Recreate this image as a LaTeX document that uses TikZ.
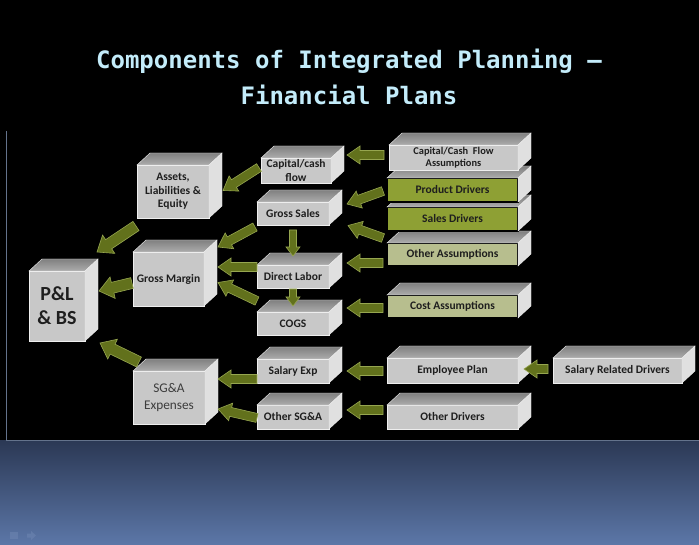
\documentclass[tikz,border=0pt]{standalone}
\usepackage{fontspec}
\setmainfont{Carlito}
\newfontfamily\titlefont{DejaVu Sans Mono}
\usetikzlibrary{calc}
\definecolor{frontgray}{RGB}{200,200,200}
\definecolor{topdark}{RGB}{128,128,128}
\definecolor{toplight}{RGB}{172,172,172}
\definecolor{sidegray}{RGB}{224,224,224}
\definecolor{edgewhite}{RGB}{238,238,238}
\definecolor{boxtext}{RGB}{30,30,30}
\definecolor{drvgreen}{RGB}{142,160,52}
\definecolor{khaki}{RGB}{183,190,142}
\definecolor{arrowfill}{RGB}{98,113,28}
\definecolor{arrowedge}{RGB}{150,166,80}
\definecolor{titlecol}{RGB}{195,236,250}
\definecolor{bgtop}{RGB}{43,56,84}
\definecolor{bgbot}{RGB}{92,119,168}
\definecolor{panelline}{RGB}{100,115,140}
\definecolor{navicon}{RGB}{108,132,176}
\def\dx{13}
\def\dy{12}
\def\sw{4.5}\def\hw{9}\def\hl{13}
\newcommand\cubebox[7][]{%
  \node[front,#1,minimum width=#5pt,minimum height=#6pt] (#2) at (#3,#4) {#7};
  \path[topface] (#2.north west) -- ++(\dx,-\dy) -- ([shift={(\dx,-\dy)}]#2.north east) -- (#2.north east) -- cycle;
  \path[sideface] (#2.north east) -- ++(\dx,-\dy) -- ([shift={(\dx,-\dy)}]#2.south east) -- (#2.south east) -- cycle;
}
\newcommand\barrow[2]{%
  \path[blockarrow] let \p1=(#1), \p2=(#2),
    \n1={atan2(\y2-\y1,\x2-\x1)}, \n2={veclen(\x2-\x1,\y2-\y1)} in
    [shift={(\p1)}, rotate=\n1]
    (0pt,\sw pt) -- ({\n2*1pt-\hl pt},\sw pt) -- ({\n2*1pt-\hl pt},\hw pt) -- ({\n2*1pt},0pt)
    -- ({\n2*1pt-\hl pt},-\hw pt) -- ({\n2*1pt-\hl pt},-\sw pt) -- (0pt,-\sw pt) -- cycle;
}
\begin{document}
\begin{tikzpicture}[x=1pt,y=-1pt,
  front/.style={fill=frontgray, draw=edgewhite, line width=0.5pt, inner sep=0pt, outer sep=0pt,
    align=center, text=boxtext, font=\bfseries\fontsize{11.5}{13.5}\selectfont},
  greenbox/.style={fill=drvgreen, draw=black, line width=1.3pt},
  khakibox/.style={fill=khaki, draw=black, line width=1.3pt},
  smalltext/.style={font=\bfseries\fontsize{10.4}{12}\selectfont},
  bigtext/.style={font=\bfseries\fontsize{20}{24}\selectfont},
  plaintext/.style={font=\fontsize{13.3}{17}\selectfont, text={rgb,255:red,60;green,60;blue,60}},
  topface/.style={top color=topdark, bottom color=toplight, draw=edgewhite, line width=0.4pt},
  sideface/.style={fill=sidegray, draw=edgewhite, line width=0.4pt},
  blockarrow/.style={fill=arrowfill, draw=arrowedge, line width=0.6pt, line join=miter},
  titletext/.style={text=titlecol, font=\titlefont\bfseries\fontsize{24}{36}\selectfont, anchor=base}
]
\useasboundingbox (0,0) rectangle (699,545);
% background
\fill[black] (0,0) rectangle (699,440);
\shade[top color=bgtop, bottom color=bgbot] (0,440) rectangle (699,545);
\draw[panelline, line width=1pt] (6.5,131) -- (6.5,440) -- (699,440);
\fill[navicon, opacity=0.6] (10,532) rectangle (18,539);
\fill[navicon, opacity=0.6] (27,533.5) -- (31,533.5) -- (31,531) -- (36,535.5) -- (31,540) -- (31,537.5) -- (27,537.5) -- cycle;
% title
\node[titletext] (title1) at (349,69) {Components of Integrated Planning –};
\node[titletext] (title2) at (349,105) {Financial Plans};
% left column
\cubebox[bigtext]{pl}{57}{306}{56}{70}{P\&L\\\& BS}
\cubebox{assets}{173}{191.5}{72}{53}{Assets,\\Liabilities \&\\Equity}
\cubebox{gm}{168.5}{279}{71}{54}{Gross Margin}
\cubebox[plaintext]{sga}{169}{397.5}{72}{53}{SG\&A\\Expenses}
% middle column
\cubebox{capcash}{296}{170.5}{70}{25}{Capital/cash\\flow}
\cubebox{gsales}{293}{213.5}{72}{23}{Gross Sales}
\cubebox{dlabor}{293}{276.5}{72}{23}{Direct Labor}
\cubebox{cogs}{293}{323.5}{72}{23}{COGS}
\cubebox{salexp}{293}{371}{72}{24}{Salary Exp}
\cubebox{othsga}{293}{417}{72}{24}{Other SG\&A}
% right stack (drawn bottom first)
\cubebox[khakibox]{othass}{452.5}{254.5}{131}{23}{Other Assumptions}
\cubebox[greenbox]{sales}{452.5}{219}{131}{24}{Sales Drivers}
\cubebox[greenbox]{prod}{452.5}{190}{131}{24}{Product Drivers}
\cubebox[smalltext]{capass}{453.5}{157.5}{129}{25}{Capital/Cash\ \ Flow\\Assumptions}
\cubebox[khakibox]{costa}{452.5}{306.5}{131}{23}{Cost Assumptions}
\cubebox{emp}{452.5}{370.5}{131}{25}{Employee Plan}
\cubebox{othdrv}{452.5}{417}{131}{24}{Other Drivers}
\cubebox{salrel}{617.5}{370.5}{129}{25}{Salary Related Drivers}
% arrows
\barrow{$(capcash.west)+(-2,-3)$}{$(assets.east)+(14,-1)$}
\barrow{$(capass.west)+(-5,-2.5)$}{$(capcash.east)+(16,-15.5)$}
\barrow{$(prod.west)+(-4,1)$}{$(gsales.east)+(18,-9.5)$}
\barrow{$(sales.south west)+(-4,7)$}{$(gsales.east)+(19,12)$}
\barrow{$(othass.west)+(-4,8.5)$}{$(dlabor.east)+(18,-13.5)$}
\barrow{$(costa.west)+(-4,1.5)$}{$(cogs.east)+(18,-15.5)$}
\barrow{$(emp.west)+(-4,0.5)$}{$(salexp.east)+(18,0)$}
\barrow{$(othdrv.west)+(-4,-7)$}{$(othsga.east)+(18,-7)$}
\barrow{$(salrel.west)+(-5,-1.5)$}{$(emp.east)+(6,-1.5)$}
\barrow{$(gsales.south west)+(-2,2)$}{$(gm.east)+(14,-32)$}
\barrow{$(dlabor.west)+(0,-9.5)$}{$(gm.east)+(14,-12)$}
\barrow{$(cogs.north west)+(0,-11)$}{$(gm.east)+(14,3.5)$}
\barrow{$(salexp.west)+(0,8)$}{$(sga.east)+(13,-18.5)$}
\barrow{$(othsga.west)+(0,1)$}{$(sga.east)+(13,11.5)$}
{\def\sw{3.5}\def\hw{7}\def\hl{9}
\barrow{$(gsales.south)+(0,5)$}{$(dlabor.north)+(0,-9)$}
\barrow{$(dlabor.south)+(0,1)$}{$(cogs.north)+(0,-6)$}}
{\def\sw{5.5}\def\hw{11}\def\hl{14}
\barrow{$(gm.west)+(-1,4)$}{$(pl.east)+(14,-15)$}
\barrow{$(assets.south west)+(-1,8)$}{$(pl.north east)+(12,-19)$}
\barrow{$(sga.north west)+(6,-9)$}{$(pl.south east)+(15,2)$}}
\end{tikzpicture}
\end{document}
